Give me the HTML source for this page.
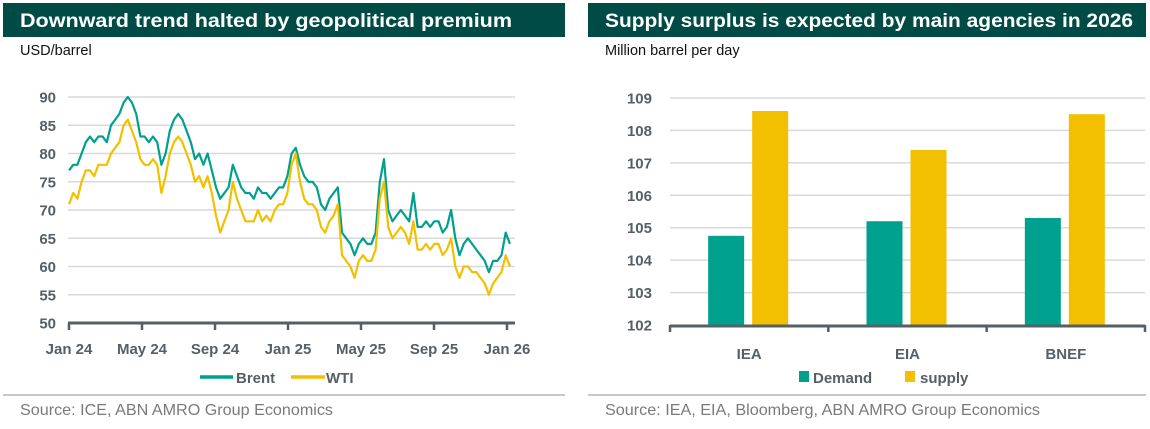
<!DOCTYPE html>
<html><head><meta charset="utf-8"><style>
html,body{margin:0;padding:0;background:#fff;width:1150px;height:429px;overflow:hidden}
svg{position:absolute;left:0;top:0;font-family:"Liberation Sans",sans-serif}
</style></head><body>
<svg id="s" width="1150" height="429">
<g>
<rect x="3" y="3" width="562" height="34" fill="#004B45"/>
<text x="20" y="27" fill="#fff" font-size="19" font-weight="bold" textLength="492" lengthAdjust="spacingAndGlyphs">Downward trend halted by geopolitical premium</text>
<text x="20" y="55" fill="#111" font-size="14.5">USD/barrel</text>
<g id="lgrid"></g>
<g id="lines"></g>
<g id="lx"></g>
<g>
<line x1="200" y1="377" x2="233" y2="377" stroke="#00A08F" stroke-width="3.5"/>
<text x="236" y="383" fill="#555f66" font-size="15" font-weight="bold">Brent</text>
<line x1="291" y1="377" x2="325" y2="377" stroke="#F2C000" stroke-width="3.5"/>
<text x="326" y="383" fill="#555f66" font-size="15" font-weight="bold">WTI</text>
</g>
<line x1="3" y1="395" x2="565" y2="395" stroke="#c8c8c8" stroke-width="2"/>
<text x="20" y="415" fill="#7a7a7a" font-size="16" textLength="313" lengthAdjust="spacingAndGlyphs">Source: ICE, ABN AMRO Group Economics</text>
</g>
<g>
<rect x="588" y="3" width="558" height="34" fill="#004B45"/>
<text x="605" y="27" fill="#fff" font-size="19" font-weight="bold" textLength="528" lengthAdjust="spacingAndGlyphs">Supply surplus is expected by main agencies in 2026</text>
<text x="605" y="55" fill="#111" font-size="14.5">Million barrel per day</text>
<g id="rgrid"></g>
<g id="bars"></g>
<g id="rx"></g>
<g>
<rect x="799" y="371" width="10" height="11" fill="#00A08F"/>
<text x="813" y="383" fill="#555f66" font-size="15" font-weight="bold">Demand</text>
<rect x="905" y="371" width="10" height="11" fill="#F2C000"/>
<text x="920" y="383" fill="#555f66" font-size="15" font-weight="bold">supply</text>
</g>
<line x1="588" y1="395" x2="1146" y2="395" stroke="#c8c8c8" stroke-width="2"/>
<text x="605" y="415" fill="#7a7a7a" font-size="16" textLength="435" lengthAdjust="spacingAndGlyphs">Source: IEA, EIA, Bloomberg, ABN AMRO Group Economics</text>
</g>
</svg>
<script>
const brent=[77,78,78,80,82, 83,82,83,83, 82,85,86,87, 89,90,89,87, 83,83,82,83,82, 78,80,84,86, 87,86,84,82, 79,80,78,80,77, 74,72,73,74, 78,76,74,73, 73,72,74,73, 73,72,73,74,74, 76,80,81,78, 76,75,75,74, 71,70,72,73, 74,66,65,64,62, 64,65,64,64, 66,75,79,70, 68,69,70,69, 68,73,67,67,68, 67,68,68,66, 67,70,65,62, 64,65,64,63, 62,61,59,61,61, 62,66,64];
const wti=[71,73,72,75,77, 77,76,78,78, 78,80,81,82, 85,86,84,82, 79,78,78,79,78, 73,76,80,82, 83,82,80,78, 75,76,74,76,73, 69,66,68,70, 75,72,70,68, 68,68,70,68, 69,68,70,71,71, 73,78,80,75, 72,71,71,70, 67,66,68,69, 71,62,61,60,58, 61,62,61,61, 63,72,75,67, 65,66,67,66, 64,68,63,63,64, 63,64,64,62, 63,65,60,58, 60,60,59,59, 58,57,55,57,58, 59,62,60];
const leftTicks=[50,55,60,65,70,75,80,85,90];
const monthLabels=["Jan 24","May 24","Sep 24","Jan 25","May 25","Sep 25","Jan 26"];
const categories=["IEA","EIA","BNEF"];
const demand=[104.75,105.2,105.3];
const supply=[108.6,107.4,108.5];
const rightTicks=[102,103,104,105,106,107,108,109];

const NS="http://www.w3.org/2000/svg";
function mk(tag,attrs,parent,txt){const e=document.createElementNS(NS,tag);for(const k in attrs)e.setAttribute(k,attrs[k]);if(txt!==undefined)e.textContent=txt;parent.appendChild(e);return e;}
const ly=v=>323-(v-50)*(226/40);
const lx0=69,lx1=507;
const lxw=i=>lx0+i*(lx1-lx0)/104.3;
const lg=document.getElementById('lgrid');
leftTicks.forEach(t=>{
  if(t>50){const g=mk('line',{x1:68,x2:515,y1:ly(t),y2:ly(t),stroke:'#d9d9d9','stroke-width':1.5},lg);
  
  }
  const tl=mk('text',{x:56,y:ly(t)+5.5,'text-anchor':'end',fill:'#555f66','font-size':15,'font-weight':'bold'},lg,t);
  
  
});
const lines=document.getElementById('lines');
[[brent,'#00A08F','brent-line'],[wti,'#F2C000','wti-line']].forEach(([d,c,n])=>{
  const p=mk('polyline',{points:d.map((v,i)=>lxw(i).toFixed(1)+','+ly(v).toFixed(1)).join(' '),fill:'none',stroke:c,'stroke-width':2.2,'stroke-linejoin':'round'},lines);
  
  
});
const lxg=document.getElementById('lx');
const ax=mk('line',{x1:68,x2:515,y1:323,y2:323,stroke:'#555f66','stroke-width':3},lxg);


monthLabels.forEach((m,i)=>{
  const x=lx0+i*(lx1-lx0)/6;
  const tk=mk('line',{x1:x,x2:x,y1:323,y2:330,stroke:'#555f66','stroke-width':2.5},lxg);
  
  
  const tl=mk('text',{x:x,y:354,'text-anchor':'middle',fill:'#555f66','font-size':15,'font-weight':'bold'},lxg,m);
  
  
});
const ry=v=>325-(v-102)*(227/7);
const rx0=670,rx1=1145,cw=(rx1-rx0)/categories.length;
const rg=document.getElementById('rgrid');
rightTicks.forEach(t=>{
  if(t>102){const g=mk('line',{x1:670,x2:1145,y1:ry(t),y2:ry(t),stroke:'#d9d9d9','stroke-width':1.5},rg);
  
  }
  const tl=mk('text',{x:652,y:ry(t)+5.5,'text-anchor':'end',fill:'#555f66','font-size':15,'font-weight':'bold'},rg,t);
  
  
});
const bars=document.getElementById('bars');
categories.forEach((c,i)=>{
  const cx=rx0+cw*(i+0.5);
  const b1=mk('rect',{x:cx-41,y:ry(demand[i]),width:36,height:ry(102)-ry(demand[i]),fill:'#00A08F'},bars);
  
  
  const b2=mk('rect',{x:cx+3,y:ry(supply[i]),width:36,height:ry(102)-ry(supply[i]),fill:'#F2C000'},bars);
  
  
  const tl=mk('text',{x:cx,y:359,'text-anchor':'middle',fill:'#555f66','font-size':15,'font-weight':'bold'},document.getElementById('rx'),c);
  
  
});
const rxg=document.getElementById('rx');
const rax=mk('line',{x1:670,x2:1145,y1:326,y2:326,stroke:'#555f66','stroke-width':3},rxg);


for(let i=0;i<=categories.length;i++){
  const x=rx0+cw*i;
  const tk=mk('line',{x1:x,x2:x,y1:325,y2:332,stroke:'#555f66','stroke-width':2.5},rxg);
  
  
}
</script>
</body></html>
